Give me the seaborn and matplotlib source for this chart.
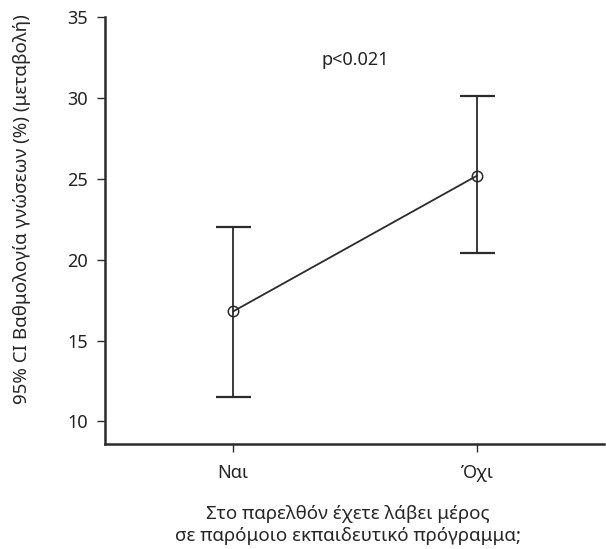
import matplotlib
matplotlib.use("Agg")
import matplotlib.pyplot as plt
import seaborn as sns
import pandas as pd

categories = ["Ναι", "Όχι"]
means = [16.8, 25.2]
ci_lower = [11.5, 20.4]
ci_upper = [22.0, 30.1]
y_ticks = [10, 15, 20, 25, 30, 35]

sns.set_theme(style="ticks")
plt.rcParams["font.family"] = ["Noto Sans", "DejaVu Sans"]
plt.rcParams["text.color"] = "#222222"

df = pd.DataFrame({"cat": categories, "mean": means, "lo": ci_lower, "hi": ci_upper})
df["x"] = range(len(df))

fig = plt.figure(figsize=(6.06, 5.49), dpi=100)
ax = fig.add_axes([0.173, 0.191, 0.824, 0.778])

col = "#2b2b2b"
ax.errorbar(df["x"], df["mean"],
            yerr=[df["mean"] - df["lo"], df["hi"] - df["mean"]],
            fmt="none", ecolor=col, elinewidth=1.3, capsize=12.6, capthick=1.6, zorder=2)
sns.lineplot(data=df, x="x", y="mean", ax=ax, color=col, linewidth=1.3,
             marker="o", markersize=7.5, markerfacecolor="none",
             markeredgecolor=col, markeredgewidth=1.1, zorder=3)

ax.set_xlim(-0.525, 1.52)
ax.set_ylim(8.6, 35)
ax.set_yticks(y_ticks)
ax.set_xticks(df["x"])
ax.set_xticklabels(categories)
ax.tick_params(axis="both", labelsize=13, colors=col, length=6, width=1.0, pad=6)
ax.tick_params(axis="x", pad=8)
for lab in ax.get_xticklabels() + ax.get_yticklabels():
    lab.set_color("#222222")
for s in ["top", "right"]:
    ax.spines[s].set_visible(False)
for s in ["left", "bottom"]:
    ax.spines[s].set_linewidth(1.8)
    ax.spines[s].set_color(col)

ax.set_ylabel("95% CI Βαθμολογία γνώσεων (%) (μεταβολή)", fontsize=13.5)
ax.yaxis.set_label_coords(-0.147, 0.55)
ax.set_xlabel("Στο παρελθόν έχετε λάβει μέρος\nσε παρόμοιο εκπαιδευτικό πρόγραμμα;",
              fontsize=13.5, linespacing=1.3)
ax.xaxis.set_label_coords(0.486, -0.142)
ax.xaxis.label.set_va("top")

ax.text(0.5, 32.35, "p<0.021", ha="center", va="center", fontsize=13)

fig.savefig("out.png", dpi=100)
